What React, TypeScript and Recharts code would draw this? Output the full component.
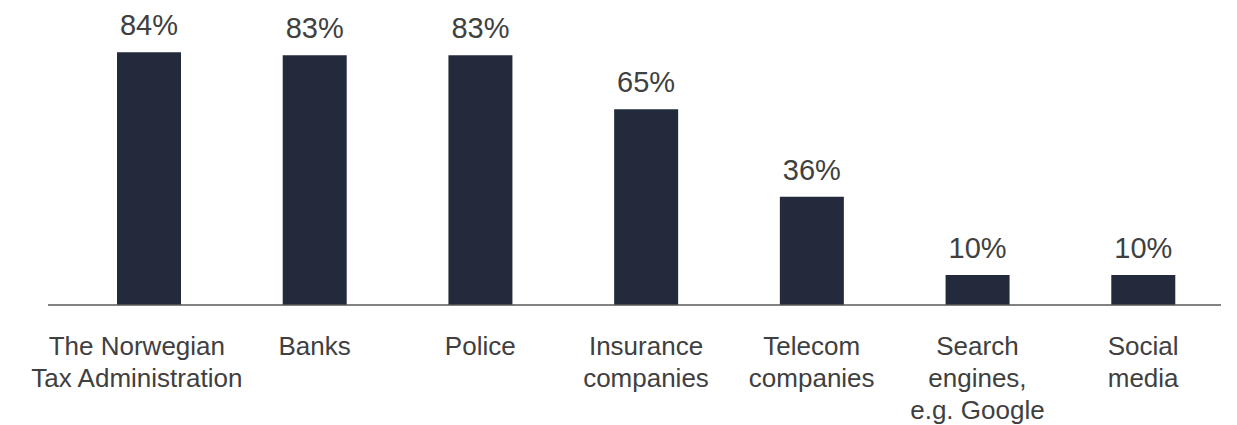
import React from "react";
import { BarChart, Bar, XAxis, YAxis, LabelList } from "recharts";

const categories = [
  "The Norwegian\nTax Administration",
  "Banks",
  "Police",
  "Insurance\ncompanies",
  "Telecom\ncompanies",
  "Search\nengines,\ne.g. Google",
  "Social\nmedia",
];
const values = [84, 83, 83, 65, 36, 10, 10];

const data = categories.map((c, i) => ({ name: c, value: values[i] }));

const FONT = '"Liberation Sans", Arial, sans-serif';
const TEXT = "#404040";

const Tick = (props: any) => {
  const { x, y, payload, index } = props;
  const lines = String(payload.value).split("\n");
  const shift = index === 0 ? -12 : 0;
  return (
    <text
      x={x + shift}
      y={y}
      textAnchor="middle"
      fill={TEXT}
      fontSize={26}
      fontFamily={FONT}
    >
      {lines.map((l: string, i: number) => (
        <tspan key={i} x={x + shift} dy={i === 0 ? 50 : 32}>
          {l}
        </tspan>
      ))}
    </text>
  );
};

export default function App() {
  return (
    <div style={{ position: "absolute", left: 0, top: 0 }}>
      <BarChart
        width={1237}
        height={425}
        data={data}
        margin={{ top: 4, right: 16, bottom: 0, left: 48 }}
      >
        <XAxis
          dataKey="name"
          axisLine={{ stroke: "#595959", strokeWidth: 1.5 }}
          tickLine={false}
          tickSize={0}
          tickMargin={0}
          height={120}
          interval={0}
          padding={{ left: 18, right: -5 }}
          tick={<Tick />}
        />
        <YAxis hide domain={[0, 100]} />
        <Bar dataKey="value" fill="#222a3b" barSize={64} isAnimationActive={false}>
          <LabelList
            dataKey="value"
            position="top"
            offset={17}
            formatter={(v: any) => `${v}%`}
            fill={TEXT}
            fontSize={29}
            fontFamily={FONT}
          />
        </Bar>
      </BarChart>
    </div>
  );
}
